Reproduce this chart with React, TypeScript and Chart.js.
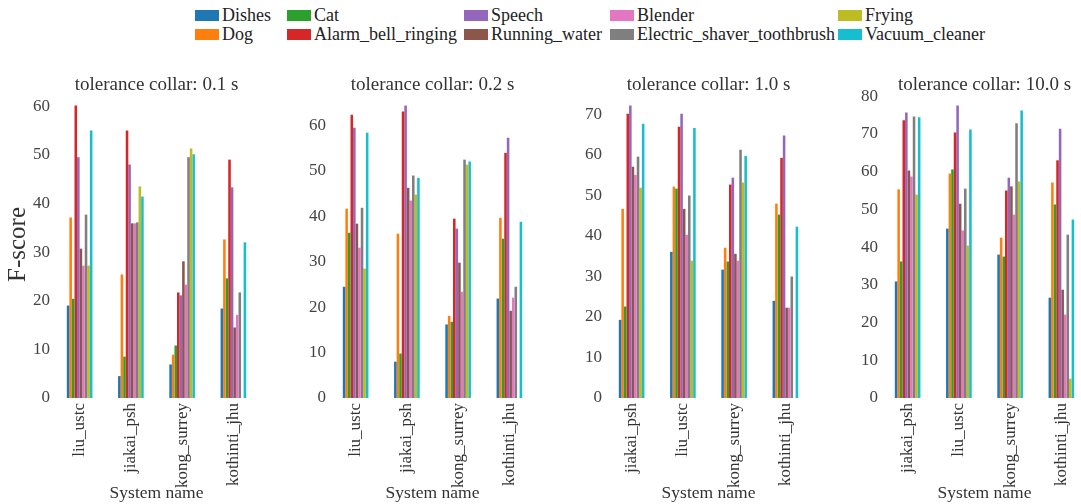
import React, { useEffect, useRef } from 'react';
import { Chart, registerables } from 'chart.js';

Chart.register(...registerables);

const FONT = '"Liberation Serif", "Times New Roman", serif';

const CLASSES = [
  'Dishes', 'Dog', 'Cat', 'Alarm_bell_ringing', 'Speech',
  'Running_water', 'Blender', 'Electric_shaver_toothbrush', 'Frying', 'Vacuum_cleaner',
];
const COLORS = [
  '#1f77b4', '#ff7f0e', '#2ca02c', '#d62728', '#9467bd',
  '#8c564b', '#e377c2', '#7f7f7f', '#bcbd22', '#17becf',
];

const SYSTEMS_A = ['liu_ustc', 'jiakai_psh', 'kong_surrey', 'kothinti_jhu'];
const SYSTEMS_B = ['jiakai_psh', 'liu_ustc', 'kong_surrey', 'kothinti_jhu'];

const COLLAR_TITLES = [
  'tolerance collar: 0.1 s',
  'tolerance collar: 0.2 s',
  'tolerance collar: 1.0 s',
  'tolerance collar: 10.0 s',
];

// rows: classes (CLASSES order), columns: systems of that panel
const F_COLLAR_0_1 = [
  [19.0, 4.5, 6.9, 18.4],
  [37.1, 25.4, 8.9, 32.6],
  [20.4, 8.5, 10.8, 24.6],
  [60.1, 55.0, 21.7, 49.0],
  [49.5, 48.0, 21.1, 43.3],
  [30.7, 35.9, 28.1, 14.5],
  [27.2, 35.9, 23.3, 17.1],
  [37.7, 36.1, 49.5, 21.7],
  [27.2, 43.5, 51.3, 0],
  [55.0, 41.4, 50.1, 32.0],
];
const F_COLLAR_0_2 = [
  [24.5, 8.0, 16.2, 21.9],
  [41.7, 36.2, 18.1, 39.7],
  [36.4, 9.8, 16.8, 35.1],
  [62.4, 63.1, 39.5, 54.0],
  [59.5, 64.4, 37.3, 57.3],
  [38.4, 46.3, 29.8, 19.2],
  [33.1, 43.5, 23.4, 22.1],
  [41.9, 49.0, 52.5, 24.5],
  [28.5, 44.8, 51.4, 0],
  [58.4, 48.5, 52.1, 38.8],
];
const F_COLLAR_1_0 = [
  [19.3, 36.1, 31.7, 24.0],
  [46.7, 52.2, 37.1, 48.0],
  [22.6, 51.7, 33.7, 45.3],
  [70.2, 67.0, 52.7, 59.3],
  [72.2, 70.2, 54.4, 64.8],
  [57.1, 46.7, 35.6, 22.3],
  [55.1, 40.3, 33.9, 22.3],
  [59.6, 50.0, 61.3, 30.0],
  [51.9, 33.9, 53.2, 0],
  [67.7, 66.7, 59.8, 42.3],
];
const F_COLLAR_10_0 = [
  [30.9, 44.9, 38.0, 26.6],
  [55.3, 59.5, 42.5, 57.1],
  [36.2, 60.6, 37.5, 51.3],
  [73.6, 70.4, 55.0, 63.0],
  [75.7, 77.5, 58.4, 71.4],
  [60.3, 51.5, 56.1, 28.7],
  [58.7, 44.4, 48.6, 22.1],
  [74.6, 55.5, 72.8, 43.3],
  [53.9, 40.4, 57.4, 5.1],
  [74.4, 71.2, 76.2, 47.3],
];

const PANELS = [
  { title: COLLAR_TITLES[0], systems: SYSTEMS_A, values: F_COLLAR_0_1 },
  { title: COLLAR_TITLES[1], systems: SYSTEMS_A, values: F_COLLAR_0_2 },
  { title: COLLAR_TITLES[2], systems: SYSTEMS_B, values: F_COLLAR_1_0 },
  { title: COLLAR_TITLES[3], systems: SYSTEMS_B, values: F_COLLAR_10_0 },
];

const LEGEND_COL_X = [195, 287, 464, 610, 838];

const panelTitlePlugin = {
  id: 'panelTitle',
  afterDraw(chart: any, _args: any, opts: any) {
    const { ctx, chartArea } = chart;
    ctx.save();
    ctx.font = `19px ${FONT}`;
    ctx.fillStyle = '#333333';
    ctx.textAlign = 'center';
    ctx.textBaseline = 'alphabetic';
    ctx.fillText(opts.text, (chartArea.left + chartArea.right) / 2, chartArea.top - 1);
    ctx.restore();
  },
};

const Y_AXIS_W = 54;
const PLOT_W = 205;
const CANVAS_TOP = 60;
const CANVAS_H = 444;
const TOP_PAD = 31;
const X_AXIS_H = 106;

function Panel({ index }: { index: number }) {
  const ref = useRef<HTMLCanvasElement | null>(null);
  const panel = PANELS[index];
  useEffect(() => {
    if (!ref.current) return;
    const maxVal = Math.max(...panel.values.map((r) => Math.max(...r)));
    const chart = new Chart(ref.current, {
      type: 'bar',
      data: {
        labels: panel.systems,
        datasets: CLASSES.map((c, i) => ({
          label: c,
          data: panel.values[i],
          backgroundColor: COLORS[i],
          borderWidth: 0,
          categoryPercentage: 0.5,
          barPercentage: 1.0,
        })),
      },
      plugins: [panelTitlePlugin],
      options: {
        animation: false,
        responsive: false,
        maintainAspectRatio: false,
        layout: { padding: { top: TOP_PAD, left: 0, right: 0, bottom: 0 } },
        plugins: {
          legend: { display: false },
          tooltip: { enabled: false },
          title: { display: false },
          panelTitle: { text: panel.title },
        } as any,
        scales: {
          x: {
            grid: { display: false, drawTicks: false },
            border: { display: false },
            ticks: {
              autoSkip: false,
              maxRotation: 90,
              minRotation: 90,
              padding: 5,
              color: '#333333',
              font: { family: FONT, size: 17 },
            },
            title: {
              display: true,
              text: 'System name',
              color: '#333333',
              font: { family: FONT, size: 17.5, lineHeight: 1.2 },
              padding: { top: 0, bottom: 0 },
            },
            afterFit: (scale: any) => {
              scale.height = X_AXIS_H;
            },
          },
          y: {
            min: 0,
            max: maxVal * 1.05,
            grid: { display: false, drawTicks: false },
            border: { display: false },
            ticks: {
              stepSize: 10,
              includeBounds: false,
              padding: 4,
              color: '#444444',
              font: { family: FONT, size: 17 },
            },
            title: {
              display: index === 0,
              text: 'F-score',
              color: '#333333',
              font: { family: FONT, size: 25, lineHeight: 1.2 },
              padding: { top: 3, bottom: 0 },
            },
            afterFit: (scale: any) => {
              scale.width = Y_AXIS_W;
            },
          },
        },
      } as any,
    });
    return () => chart.destroy();
  }, [index]);
  const left = 276 * index;
  return (
    <canvas
      ref={ref}
      width={Y_AXIS_W + PLOT_W}
      height={CANVAS_H}
      style={{
        position: 'absolute',
        left,
        top: CANVAS_TOP,
        width: Y_AXIS_W + PLOT_W,
        height: CANVAS_H,
      }}
    />
  );
}

function Legend() {
  return (
    <>
      {CLASSES.map((c, i) => {
        const col = Math.floor(i / 2);
        const row = i % 2;
        const x = LEGEND_COL_X[col];
        const top = 6 + row * 19;
        return (
          <div
            key={c}
            style={{
              position: 'absolute',
              left: x,
              top,
              height: 18,
              display: 'block',
              whiteSpace: 'nowrap',
            }}
          >
            <div
              style={{
                position: 'absolute',
                left: 0,
                top: 4,
                width: 24,
                height: 11,
                background: COLORS[i],
              }}
            />
            <span
              style={{
                position: 'absolute',
                left: 27,
                top: 0,
                fontFamily: FONT,
                fontSize: 18,
                lineHeight: '18px',
                color: '#222222',
              }}
            >
              {c}
            </span>
          </div>
        );
      })}
    </>
  );
}

export default function App() {
  return (
    <div
      style={{
        position: 'absolute',
        left: 0,
        top: 0,
        width: 1081,
        height: 504,
        overflow: 'hidden',
        background: '#ffffff',
      }}
    >
      <Legend />
      {PANELS.map((_, i) => (
        <Panel key={i} index={i} />
      ))}
    </div>
  );
}
